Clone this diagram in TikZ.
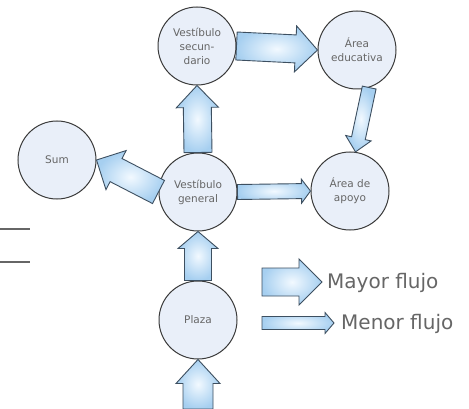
\documentclass[tikz,border=0pt]{standalone}
\usepackage{fontspec}
\setmainfont{DejaVu Sans}
\usetikzlibrary{calc}
\definecolor{circfill}{HTML}{E9EFF9}
\definecolor{circline}{HTML}{3A3A3A}
\definecolor{arrline}{HTML}{3D4F60}
\definecolor{arrin}{HTML}{F2F9FF}
\definecolor{arrout}{HTML}{A6CFF0}
\definecolor{txtgrey}{HTML}{666666}
\newcommand{\fatarr}[6][]{%
  \coordinate (fa-h) at ($(#3)!#6!(#2)$);
  \draw[fatstyle,#1] ($(#2)!#4!90:(#3)$) -- ($(fa-h)!#4!-90:(#2)$) -- ($(fa-h)!#5!-90:(#2)$) -- (#3) -- ($(fa-h)!#5!90:(#2)$) -- ($(fa-h)!#4!90:(#2)$) -- ($(#2)!#4!-90:(#3)$) -- cycle;
}
\begin{document}
\begin{tikzpicture}[x=1pt,y=-1pt,
  room/.style={circle,draw=circline,fill=circfill,line width=1pt,minimum size=78pt,inner sep=0pt,
    text=txtgrey,font=\fontsize{10.5}{14}\selectfont,align=center},
  fatstyle/.style={draw=arrline,line width=0.9pt,line join=miter,inner color=arrin,outer color=arrout},
  legtext/.style={anchor=west,text=txtgrey,font=\fontsize{20}{23}\selectfont,inner sep=0pt},
  sideline/.style={draw=black!60,line width=1.2pt}]
\useasboundingbox (0,0) rectangle (469,409);
\fill[white] (0,0) rectangle (469,409);
% rooms
\node[room] (vsec) at (197,46) {Vestíbulo\\secun-\\dario};
\node[room] (educ) at (357,50) {Área\\educativa};
\node[room] (sum) at (57,160) {Sum};
\node[room] (vgen) at (198,192) {Vestíbulo\\general};
\node[room] (apoyo) at (350,191) {Área de\\apoyo};
\node[room] (plaza) at (198,320) {Plaza};
% side lines
\coordinate (l1a) at (0,229); \coordinate (l1b) at (30,229);
\coordinate (l2a) at (0,262); \coordinate (l2b) at (30,262);
\draw[sideline] (l1a) -- (l1b);
\draw[sideline] (l2a) -- (l2b);
% connectors
\fatarr{vgen.north}{vsec.south}{14pt}{21pt}{22pt}
\fatarr{vsec.east}{educ.west}{14pt}{23pt}{22pt}
\fatarr{vgen.west}{sum.east}{13pt}{22pt}{22pt}
\fatarr{vgen.east}{apoyo.west}{7.5pt}{12pt}{9pt}
\fatarr{educ.-72}{apoyo.82}{7pt}{13pt}{14pt}
\fatarr{plaza.north}{vgen.south}{13.5pt}{20pt}{17pt}
\coordinate (entry) at (198,409);
\fatarr{entry}{plaza.south}{15pt}{22pt}{24pt}
% legend
\coordinate (lg1a) at (262,282); \coordinate (lg1b) at (322,282);
\coordinate (lg2a) at (262,323); \coordinate (lg2b) at (334,323);
\fatarr{lg1a}{lg1b}{14pt}{23pt}{23pt}
\fatarr{lg2a}{lg2b}{6.5pt}{10.5pt}{9pt}
\node[legtext] (mayor) at (327,283) {Mayor flujo};
\node[legtext] (menor) at (341,324) {Menor flujo};
\end{tikzpicture}
\end{document}
